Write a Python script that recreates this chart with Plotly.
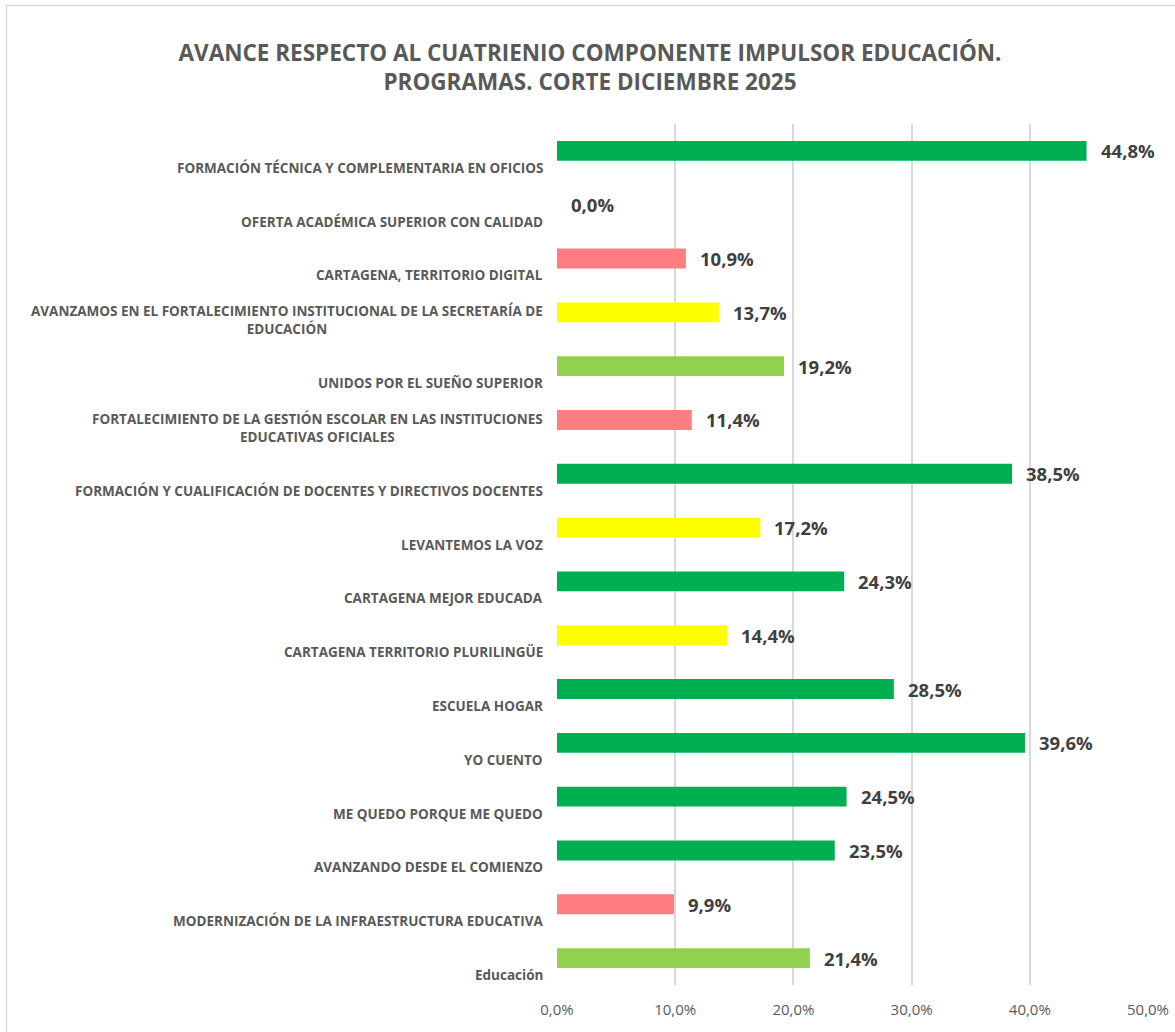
import plotly.graph_objects as go

categories = [
    "FORMACIÓN TÉCNICA Y COMPLEMENTARIA EN OFICIOS",
    "OFERTA ACADÉMICA SUPERIOR CON CALIDAD",
    "CARTAGENA, TERRITORIO DIGITAL",
    "AVANZAMOS EN EL FORTALECIMIENTO INSTITUCIONAL DE LA SECRETARÍA DE<br>EDUCACIÓN",
    "UNIDOS POR EL SUEÑO SUPERIOR",
    "FORTALECIMIENTO DE LA GESTIÓN ESCOLAR EN LAS INSTITUCIONES<br>EDUCATIVAS OFICIALES",
    "FORMACIÓN Y CUALIFICACIÓN DE DOCENTES Y DIRECTIVOS DOCENTES",
    "LEVANTEMOS LA VOZ",
    "CARTAGENA MEJOR EDUCADA",
    "CARTAGENA TERRITORIO PLURILINGÜE",
    "ESCUELA HOGAR",
    "YO CUENTO",
    "ME QUEDO PORQUE ME QUEDO",
    "AVANZANDO DESDE EL COMIENZO",
    "MODERNIZACIÓN DE LA INFRAESTRUCTURA EDUCATIVA",
    "Educación",
]
values = [44.8, 0.0, 10.9, 13.7, 19.2, 11.4, 38.5, 17.2, 24.3, 14.4, 28.5, 39.6, 24.5, 23.5, 9.9, 21.4]

GREEN = "#00B050"
LGREEN = "#92D050"
YELLOW = "#FFFF00"
RED = "#FF7C80"
bar_colors = [GREEN, GREEN, RED, YELLOW, LGREEN, RED, GREEN, YELLOW, GREEN, YELLOW,
              GREEN, GREEN, GREEN, GREEN, RED, LGREEN]

x_ticks = [0, 10, 20, 30, 40, 50]
x_ticktext = ["0,0%", "10,0%", "20,0%", "30,0%", "40,0%", "50,0%"]

title = "AVANCE RESPECTO AL CUATRIENIO COMPONENTE IMPULSOR EDUCACIÓN.<br>PROGRAMAS. CORTE DICIEMBRE 2025"

n = len(categories)
ypos = list(range(n))

W, H = 1175, 1032
L, R, T, B = 557, 27, 124, 47
PW, PH = W - L - R, H - T - B

fig = go.Figure()
fig.add_trace(go.Bar(
    x=values, y=ypos, orientation="h",
    marker=dict(color=bar_colors, line=dict(width=0)),
    width=0.37, hoverinfo="skip",
))

annotations = []
# category labels (bottom-aligned in each band, center-aligned text)
for i, c in enumerate(categories):
    annotations.append(dict(
        x=0, xref="paper", y=i + 0.5, yref="y",
        text=c, showarrow=False, xanchor="right", yanchor="bottom",
        align="center", xshift=-12, yshift=-1,
        font=dict(family="Open Sans", size=13.5, color="#595959", weight="bold"),
    ))
# data labels
for i, v in enumerate(values):
    annotations.append(dict(
        x=v, xref="x", y=i, yref="y",
        text=f"{v:.1f}".replace(".", ",") + "%", showarrow=False,
        xanchor="left", yanchor="middle", xshift=12,
        font=dict(family="Open Sans", size=18.5, color="#404040", weight="bold"),
    ))

fig.update_layout(
    width=W, height=H,
    margin=dict(l=L, r=R, t=T, b=B, autoexpand=False),
    paper_bgcolor="white", plot_bgcolor="white",
    showlegend=False,
    title=dict(text=title, x=590 / W, xref="container", xanchor="center",
               y=1 - 61 / H, yref="container", yanchor="middle",
               font=dict(family="Open Sans", size=22.5, color="#595959", weight="bold")),
    xaxis=dict(range=[0, 50], tickvals=x_ticks, ticktext=x_ticktext,
               showgrid=True, gridcolor="#D9D9D9", gridwidth=1.5, automargin=False,
               zeroline=False, showline=False, ticks="", ticklabelstandoff=14,
               tickfont=dict(family="Open Sans", size=15, color="#595959")),
    yaxis=dict(range=[n - 0.5, -0.5], showticklabels=False, showgrid=False,
               zeroline=False, showline=False, automargin=False),
    annotations=annotations,
    shapes=[dict(type="rect", xref="paper", yref="paper",
                 x0=-(L - 6.5) / PW, x1=1 + (R + 20) / PW,
                 y0=-(B + 20) / PH, y1=1 + (T - 5.5) / PH,
                 line=dict(color="#D9D9D9", width=1.5), fillcolor="rgba(0,0,0,0)",
                 layer="below")],
)

fig.write_html("out.html", config={"displayModeBar": False},
               post_script="document.body.style.margin='0';")
